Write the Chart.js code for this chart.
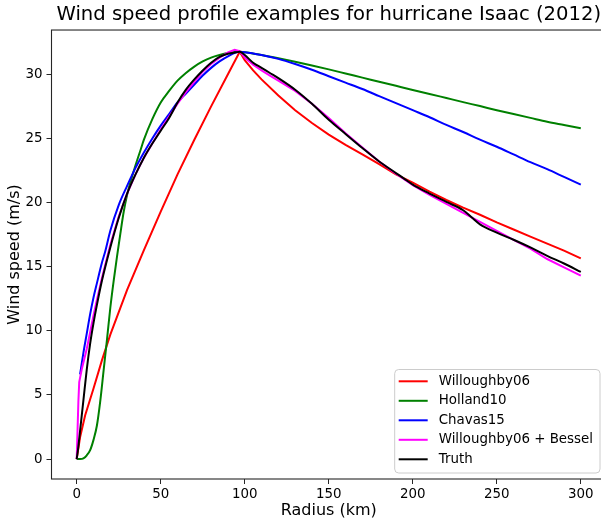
<!DOCTYPE html>
<html>
<head>
<meta charset="utf-8">
<script src="https://cdn.jsdelivr.net/npm/chart.js@4.4.1/dist/chart.umd.min.js"></script>
<style>
  html, body { margin: 0; padding: 0; background: #fff; overflow: hidden; }
  #wrap { width: 620px; height: 524px; }
</style>
</head>
<body>
<div id="wrap"><canvas id="profileChart" width="620" height="524"></canvas></div>
<script>
// ── Profile data (radius in km, wind speed in m/s) ──
const willoughbyR = [0, 2, 5, 10, 15, 20, 30, 40, 50, 60, 70, 80, 90, 97, 100, 105, 110, 120, 130, 140,
                     150, 160, 170, 180, 190, 200, 210, 220, 230, 240, 250, 260, 270, 280, 290, 300];
const willoughbyV = [0, 1.7, 3.4, 5.5, 7.7, 9.7, 13.2, 16.3, 19.3, 22.2, 24.9, 27.5, 30.0, 31.75, 31.1, 30.3, 29.6, 28.35, 27.2, 26.2,
                     25.3, 24.5, 23.75, 23.0, 22.2, 21.55, 20.85, 20.2, 19.6, 19.05, 18.45, 17.9, 17.35, 16.8, 16.25, 15.65];

const hollandR = [0, 2, 4, 6, 8, 10, 12, 14, 16, 18, 20, 22, 24, 26, 28, 30, 32, 35, 38, 40, 45, 50, 55, 60, 65, 70, 75, 80, 85, 90, 97,
                  100, 110, 120, 130, 140, 150, 160, 170, 180, 190, 200, 210, 220, 230, 240, 250, 260, 270, 280, 290, 300];
const hollandV = [0, 0, 0.05, 0.3, 0.7, 1.5, 2.6, 4.5, 6.9, 9.3, 11.8, 13.9, 15.8, 17.6, 19.3, 20.6, 21.6, 22.9, 24.1, 24.9, 26.5, 27.8, 28.7, 29.5, 30.1, 30.6, 31.0, 31.3, 31.5, 31.65, 31.75,
                  31.72, 31.5, 31.25, 30.98, 30.69, 30.38, 30.06, 29.74, 29.42, 29.1, 28.78, 28.47, 28.15, 27.83, 27.52, 27.2, 26.9, 26.6, 26.3, 26.05, 25.8];

const chavasR = [2, 4, 6, 8, 10, 12, 15, 17, 20, 25, 30, 35, 40, 45, 50, 55, 60, 65, 70, 75, 80, 85, 90, 97,
                 100, 110, 120, 130, 140, 150, 160, 170, 180, 190, 200, 210, 220, 230, 240, 250, 260, 270, 280, 290, 300];
const chavasV = [6.6, 8.3, 9.8, 11.3, 12.6, 13.7, 15.3, 16.2, 17.8, 19.8, 21.3, 22.7, 23.9, 25.0, 26.0, 26.9, 27.8, 28.5, 29.2, 29.9, 30.5, 31.0, 31.4, 31.75,
                 31.72, 31.5, 31.2, 30.8, 30.35, 29.85, 29.35, 28.85, 28.3, 27.75, 27.2, 26.65, 26.05, 25.5, 24.9, 24.35, 23.75, 23.15, 22.6, 22.0, 21.4];

const besselR = [0, 1, 1.5, 3, 6, 8, 10, 12, 15, 20, 25, 30, 35, 40, 45, 50, 55, 60, 65, 70, 75, 80, 85, 90, 94, 97,
                 100, 105, 110, 115, 120, 130, 140, 150, 160, 170, 180, 190, 200, 210, 220, 230, 240, 250, 260, 270, 280, 290, 300];
const besselV = [0, 4.5, 6.0, 7.0, 8.6, 9.9, 11.2, 12.4, 14.1, 16.7, 18.9, 20.7, 22.2, 23.5, 24.6, 25.7, 26.7, 27.7, 28.6, 29.4, 30.2, 30.8, 31.3, 31.7, 31.9, 31.8,
                 31.3, 30.75, 30.3, 29.9, 29.5, 28.7, 27.7, 26.6, 25.4, 24.3, 23.2, 22.25, 21.35, 20.6, 19.9, 19.2, 18.5, 17.8, 17.1, 16.4, 15.6, 14.95, 14.3];

const truthR = [0, 1, 2, 4, 6, 8, 10, 12, 15, 20, 25, 30, 35, 40, 45, 50, 55, 60, 65, 70, 75, 80, 85, 90, 95, 97,
                100, 105, 110, 115, 120, 130, 140, 150, 160, 170, 180, 190, 195, 200, 210, 220, 230, 235, 240, 250, 260, 270, 280, 290, 300];
const truthV = [0, 1.0, 2.2, 4.6, 7.0, 9.0, 10.6, 12.0, 13.9, 16.5, 18.8, 20.7, 22.2, 23.5, 24.6, 25.6, 26.6, 27.8, 28.8, 29.6, 30.3, 30.9, 31.35, 31.6, 31.72, 31.75,
                31.5, 30.9, 30.5, 30.1, 29.7, 28.8, 27.7, 26.45, 25.35, 24.25, 23.2, 22.3, 21.85, 21.4, 20.7, 20.05, 19.4, 18.85, 18.3, 17.65, 17.1, 16.5, 15.85, 15.25, 14.6];

// Tick labels
const xTicks = [0, 50, 100, 150, 200, 250, 300];
const yTicks = [0, 5, 10, 15, 20, 25, 30];

const FONT = 'DejaVu Sans';

// zip radius + speed arrays into {x, y} points
const toPoints = (rs, vs) => rs.map((r, i) => ({ x: r, y: vs[i] }));

// ── Frame: matplotlib-style box around the axes ──
const framePlugin = {
    id: 'frame',
    afterDatasetsDraw(chart) {
        const { ctx, chartArea: a } = chart;
        ctx.save();
        ctx.strokeStyle = '#262626';
        ctx.lineWidth = 1.1;
        ctx.strokeRect(a.left, a.top, a.right - a.left, a.bottom - a.top);
        ctx.restore();
    }
};

// ── Legend drawn inside the axes, lower right ──
const boxLegendPlugin = {
    id: 'boxLegend',
    afterDraw(chart) {
        const { ctx, chartArea: a } = chart;
        const sets = chart.data.datasets;
        ctx.save();
        ctx.font = `13.4px "${FONT}"`;
        const maxText = Math.max(...sets.map(d => ctx.measureText(d.label).width));
        const w = 4 + 29 + 11 + maxText + 7;
        const rowH = 19.5;
        const h = 103.5;
        const right = a.right - 6, bottom = a.bottom - 6;
        const left = right - w, top = bottom - h;

        // rounded box
        const rad = 4;
        ctx.beginPath();
        ctx.moveTo(left + rad, top);
        ctx.arcTo(right, top, right, bottom, rad);
        ctx.arcTo(right, bottom, left, bottom, rad);
        ctx.arcTo(left, bottom, left, top, rad);
        ctx.arcTo(left, top, right, top, rad);
        ctx.closePath();
        ctx.fillStyle = 'rgba(255,255,255,0.8)';
        ctx.fill();
        ctx.strokeStyle = '#cccccc';
        ctx.lineWidth = 1;
        ctx.stroke();

        ctx.textBaseline = 'middle';
        ctx.fillStyle = '#000';
        sets.forEach((d, i) => {
            const y = top + 11.8 + i * rowH;
            ctx.beginPath();
            ctx.moveTo(left + 4, y);
            ctx.lineTo(left + 33, y);
            ctx.strokeStyle = d.borderColor;
            ctx.lineWidth = 2;
            ctx.stroke();
            ctx.fillText(d.label, left + 44, y);
        });
        ctx.restore();
    }
};

// smooth = true uses monotone curves (no overshoot); cusped profiles stay straight-segmented
const lineSet = (label, rs, vs, color, order, smooth) => ({
    label,
    data: toPoints(rs, vs),
    borderColor: color,
    backgroundColor: color,
    borderWidth: 2,
    pointRadius: 0,
    tension: 0,
    cubicInterpolationMode: smooth ? 'monotone' : 'default',
    fill: false,
    order
});

new Chart(document.getElementById('profileChart'), {
    type: 'line',
    data: {
        datasets: [
            lineSet('Willoughby06',          willoughbyR, willoughbyV, '#ff0000', 5, false),
            lineSet('Holland10',             hollandR,    hollandV,    '#008000', 4, true),
            lineSet('Chavas15',              chavasR,     chavasV,     '#0000ff', 3, true),
            lineSet('Willoughby06 + Bessel', besselR,     besselV,     '#ff00ff', 2, false),
            lineSet('Truth',                 truthR,      truthV,      '#000000', 1, true)
        ]
    },
    options: {
        responsive: false,
        animation: false,
        events: [],
        layout: { padding: { top: 0, right: 14, bottom: 0, left: 0 } },
        plugins: {
            legend: { display: false },
            tooltip: { enabled: false },
            title: {
                display: true,
                fullSize: false,
                text: 'Wind speed profile examples for hurricane Isaac (2012)',
                color: '#000',
                font: { family: FONT, size: 19.6, weight: 'normal' },
                padding: { top: 3.4, bottom: 3.1 }
            }
        },
        scales: {
            x: {
                type: 'linear',
                min: -15,
                max: 315,
                afterBuildTicks: s => { s.ticks = xTicks.map(v => ({ value: v })); },
                afterFit: s => { s.height = 45; },
                grid: { drawOnChartArea: false, drawTicks: true, tickLength: 5, color: '#262626' },
                border: { display: false },
                ticks: { color: '#000', font: { family: FONT, size: 13.4 }, padding: 2, maxRotation: 0 },
                title: {
                    display: true,
                    text: 'Radius (km)',
                    color: '#000',
                    font: { family: FONT, size: 16 },
                    padding: { top: 0, bottom: 3.5 }
                }
            },
            y: {
                type: 'linear',
                min: -1.55,
                max: 33.45,
                afterBuildTicks: s => { s.ticks = yTicks.map(v => ({ value: v })); },
                afterFit: s => { s.width = 51.5; },
                grid: { drawOnChartArea: false, drawTicks: true, tickLength: 5, color: '#262626' },
                border: { display: false },
                ticks: { color: '#000', font: { family: FONT, size: 13.4 }, padding: 4 },
                title: {
                    display: true,
                    text: 'Wind speed (m/s)',
                    color: '#000',
                    font: { family: FONT, size: 16 },
                    padding: { top: 5, bottom: 0 }
                }
            }
        }
    },
    plugins: [framePlugin, boxLegendPlugin]
});
</script>
</body>
</html>
